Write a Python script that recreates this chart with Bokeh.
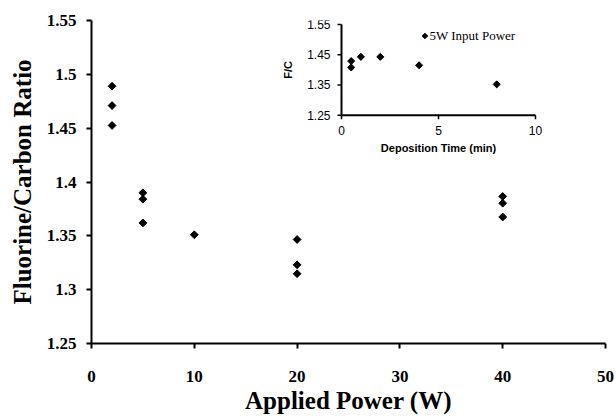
import math
from bokeh.plotting import figure
from bokeh.models import Range1d, FixedTicker
from bokeh.core.properties import value
from bokeh.embed import file_html
from bokeh.resources import INLINE

# ---- Main chart data ----
power_w = [2, 2, 2, 5, 5, 5, 10, 20, 20, 20, 40, 40, 40]
fc_ratio = [1.489, 1.471, 1.4525, 1.390, 1.384, 1.362, 1.351,
            1.3466, 1.3231, 1.3148, 1.3866, 1.3803, 1.3675]
x_ticks = [0, 10, 20, 30, 40, 50]
y_ticks = [1.25, 1.3, 1.35, 1.4, 1.45, 1.5, 1.55]
y_tick_labels = ["1.25", "1.3", "1.35", "1.4", "1.45", "1.5", "1.55"]
x_title = "Applied Power (W)"
y_title = "Fluorine/Carbon Ratio"

# ---- Inset data (5 W input power) ----
dep_time = [0.5, 0.5, 1, 2, 4, 8]
dep_fc = [1.429, 1.408, 1.443, 1.443, 1.415, 1.352]
inset_x_ticks = [0, 5, 10]
inset_x_labels = ["0", "5", "10"]
inset_y_ticks = [1.25, 1.35, 1.45, 1.55]
inset_y_labels = ["1.25", "1.35", "1.45", "1.55"]
inset_x_title = "Deposition Time (min)"
inset_y_title = "F/C"
inset_series = "5W Input Power"

SERIF = "Liberation Serif"
SANS = "Liberation Sans"

# ---- layout constants (canvas pixels) ----
W, H = 616, 416
B_LEFT, B_RIGHT, B_TOP, B_BOTTOM = 91, 11, 20, 73
FRAME_W = W - B_LEFT - B_RIGHT
FRAME_H = H - B_TOP - B_BOTTOM
# inset frame box in canvas pixels
IN_LEFT, IN_RIGHT, IN_TOP, IN_BOTTOM = 341, 535, 24, 114.7
# inset legend key anchor (inset axis units)
LEG_X, LEG_Y = 4.3, 1.512

p = figure(width=W, height=H, x_range=Range1d(0, 50), y_range=Range1d(1.25, 1.55),
           output_backend="svg", toolbar_location=None,
           min_border_left=B_LEFT, min_border_right=B_RIGHT,
           min_border_top=B_TOP, min_border_bottom=B_BOTTOM,
           x_axis_label=x_title, y_axis_label=y_title)
p.grid.visible = False
p.outline_line_color = None
p.scatter(power_w, fc_ratio, marker="square", angle=math.pi / 4, size=5.5,
          fill_color="black", line_color="black")

p.xaxis.ticker = FixedTicker(ticks=x_ticks)
p.yaxis.ticker = FixedTicker(ticks=y_ticks)
p.yaxis.major_label_overrides = dict(zip(y_ticks, y_tick_labels))
for ax in (p.xaxis[0], p.yaxis[0]):
    ax.axis_line_width = 2
    ax.axis_line_color = "black"
    ax.major_tick_line_width = 2
    ax.major_tick_line_color = "black"
    ax.major_tick_in = 0
    ax.major_tick_out = 5
    ax.minor_tick_line_color = None
    ax.major_label_text_font = SERIF
    ax.major_label_text_font_style = "bold"
    ax.major_label_text_font_size = "17px"
    ax.major_label_text_color = "black"
    ax.axis_label_text_font = SERIF
    ax.axis_label_text_font_style = "bold"
    ax.axis_label_text_font_size = "25px"
    ax.axis_label_text_color = "black"
p.xaxis.major_label_standoff = 22
p.xaxis.axis_label_standoff = 2
p.yaxis.major_label_standoff = 10
p.yaxis.axis_label_standoff = 8

# ---- inset drawn on its own ranges inside the main frame ----
x_per_px = (inset_x_ticks[-1] - inset_x_ticks[0]) / (IN_RIGHT - IN_LEFT)
y_per_px = (inset_y_ticks[-1] - inset_y_ticks[0]) / (IN_BOTTOM - IN_TOP)
ix_start = inset_x_ticks[0] - (IN_LEFT - B_LEFT) * x_per_px
iy_start = inset_y_ticks[0] - ((B_TOP + FRAME_H) - IN_BOTTOM) * y_per_px
p.extra_x_ranges = {"ix": Range1d(ix_start, ix_start + FRAME_W * x_per_px)}
p.extra_y_ranges = {"iy": Range1d(iy_start, iy_start + FRAME_H * y_per_px)}
R = dict(x_range_name="ix", y_range_name="iy")

x0, x1 = inset_x_ticks[0], inset_x_ticks[-1]
y0, y1 = inset_y_ticks[0], inset_y_ticks[-1]
# axis lines
p.segment(x0=[x0, x0], y0=[y0, y0], x1=[x1, x0], y1=[y0, y1],
          line_color="black", line_width=2, **R)
# tick marks
p.ray(x=inset_x_ticks, y=[y0] * len(inset_x_ticks), length=4, length_units="screen",
      angle=-math.pi / 2, line_color="black", line_width=1.5, **R)
p.ray(x=[x0] * len(inset_y_ticks), y=inset_y_ticks, length=4, length_units="screen",
      angle=math.pi, line_color="black", line_width=1.5, **R)
# tick labels
p.text(x=inset_x_ticks, y=[y0] * len(inset_x_ticks), text=inset_x_labels,
       y_offset=15, text_align="center", text_baseline="middle",
       text_font=value(SANS), text_font_size="12px", text_color="black", **R)
p.text(x=[x0] * len(inset_y_ticks), y=inset_y_ticks, text=inset_y_labels,
       x_offset=-11, text_align="right", text_baseline="middle",
       text_font=value(SANS), text_font_size="12px", text_color="black", **R)
# axis titles
p.text(x=[(x0 + x1) / 2], y=[y0], text=[inset_x_title],
       y_offset=33, text_align="center", text_baseline="middle",
       text_font=value(SANS), text_font_style="bold", text_font_size="11px",
       text_color="black", **R)
p.text(x=[x0], y=[(y0 + y1) / 2], text=[inset_y_title], angle=math.pi / 2,
       x_offset=-54, text_align="center", text_baseline="middle",
       text_font=value(SANS), text_font_style="bold", text_font_size="11px",
       text_color="black", **R)
# inset points
p.scatter(dep_time, dep_fc, marker="square", angle=math.pi / 4, size=5,
          fill_color="black", line_color="black", **R)
# inset legend key + label
p.scatter(x=[LEG_X], y=[LEG_Y], marker="square", angle=math.pi / 4, size=4,
          fill_color="black", line_color="black", **R)
p.text(x=[LEG_X], y=[LEG_Y], text=[inset_series], x_offset=4.5,
       text_align="left", text_baseline="middle",
       text_font=value(SERIF), text_font_size="13px", text_color="black", **R)

open("out.html", "w").write(file_html(p, INLINE))
